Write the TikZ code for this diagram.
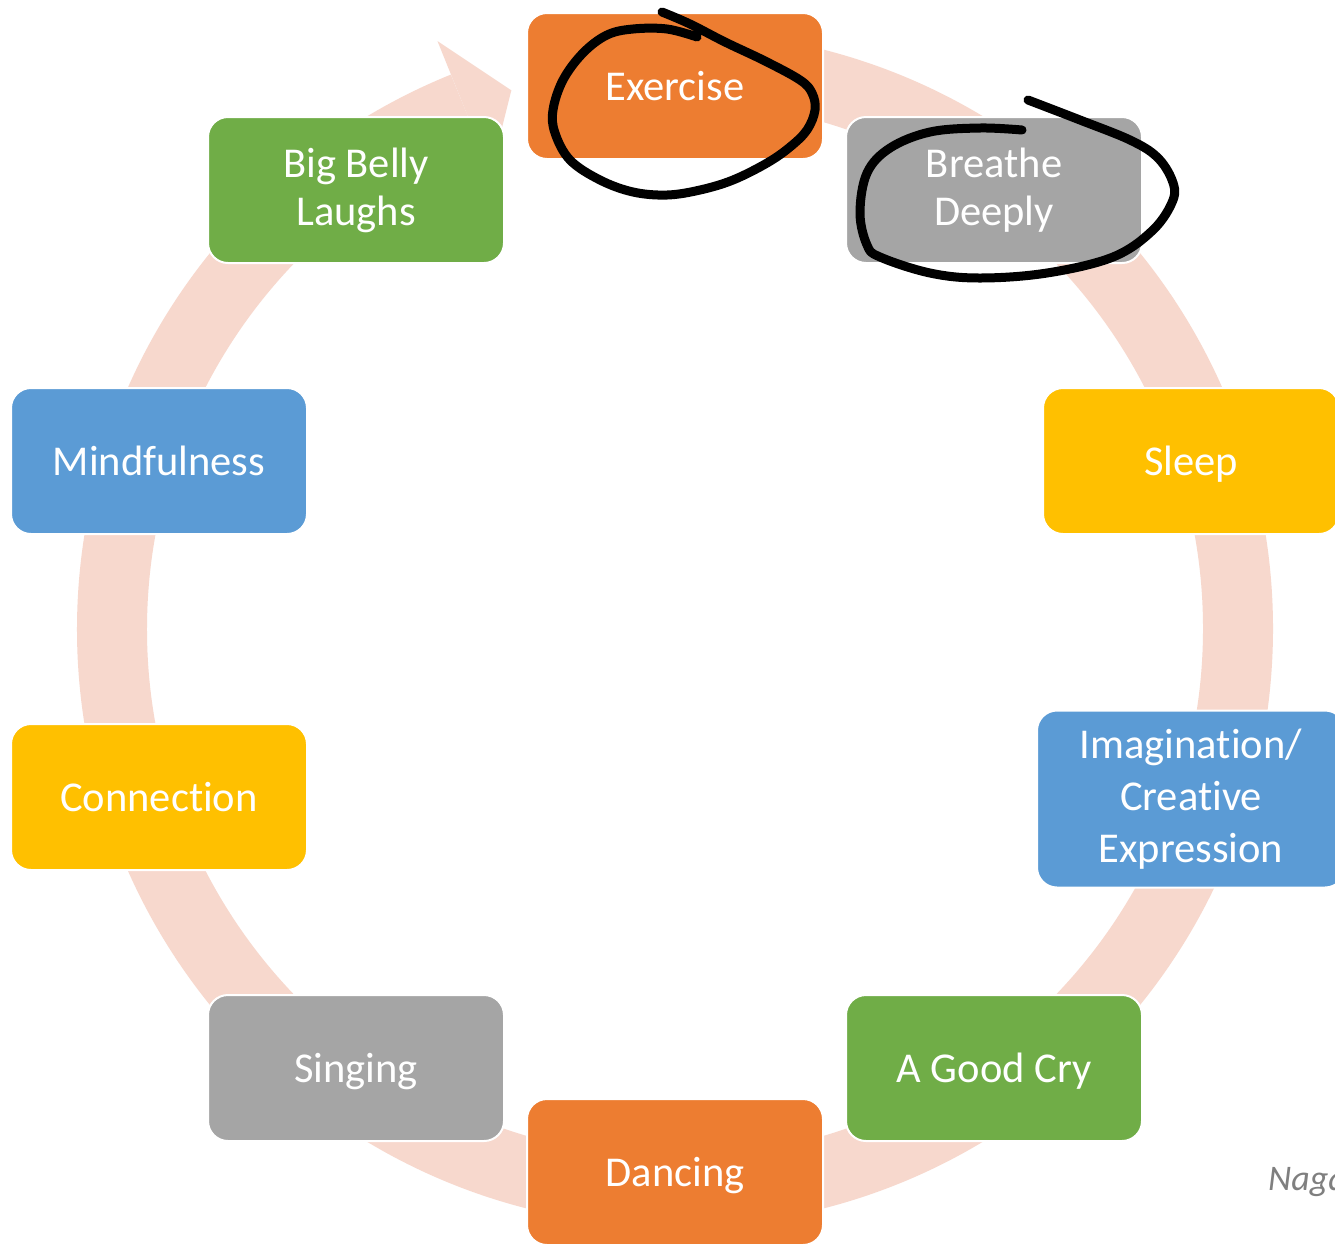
\documentclass[tikz,border=0pt]{standalone}
\usepackage{fontspec}
\usetikzlibrary{calc}
\setmainfont[Ligatures=NoCommon]{Carlito}
\definecolor{cOrange}{HTML}{ED7D31}
\definecolor{cGray}{HTML}{A5A5A5}
\definecolor{cYellow}{HTML}{FFC000}
\definecolor{cBlue}{HTML}{5B9BD5}
\definecolor{cGreen}{HTML}{70AD47}
\definecolor{cRing}{RGB}{247,216,205}
\definecolor{cNote}{HTML}{7F7F7F}
\begin{document}
\begin{tikzpicture}[x=1pt,y=1pt,
  box/.style={rectangle, rounded corners=20pt, draw=white, line width=2pt,
    minimum width=296pt, minimum height=146pt, inner sep=0pt, text=white,
    align=center, font=\fontsize{42.5}{48}\selectfont},
  oneline/.style={text height=28pt, text depth=0pt},
  scribble/.style={draw=black, line width=9pt, line cap=round, line join=round}]
\clip (0,0) rectangle (1335,-1243);
\fill[white] (0,0) rectangle (1335,-1243);
% ring arrow
\coordinate (ctr) at (675,-629);
\draw[cRing, line width=70pt] (ctr) ++(88:563) arc[start angle=88, end angle=-248, radius=563];
\fill[cRing] ($(ctr)+(112:634)$) -- ($(ctr)+(106.9:563)$) -- ($(ctr)+(112:492)$) -- cycle;
% boxes
\node[box, oneline, fill=cOrange] (exercise) at (675,-86) {Exercise};
\node[box, fill=cGray] (breathe) at (994,-190) {Breathe\\Deeply};
\node[box, oneline, fill=cYellow] (sleep) at (1191,-461) {Sleep};
\node[box, fill=cBlue, minimum width=308pt, minimum height=177pt, font=\fontsize{42.5}{52}\selectfont] (imag) at (1191,-799) {Imagination/\\Creative\\Expression};
\node[box, oneline, fill=cGreen] (cry) at (994,-1068) {A Good Cry};
\node[box, oneline, fill=cOrange] (dancing) at (675,-1172) {Dancing};
\node[box, oneline, fill=cGray] (singing) at (356,-1068) {Singing};
\node[box, oneline, fill=cYellow] (connection) at (159,-797) {Connection};
\node[box, oneline, fill=cBlue] (mindful) at (159,-461) {Mindfulness};
\node[box, fill=cGreen] (belly) at (356,-190) {Big Belly\\Laughs};
% hand-drawn circles
\draw[scribble] plot[smooth, tension=0.6] coordinates {
 (697,-37) (667,-29) (633,-29) (607,-35) (583,-53) (563,-80) (553,-110) (555,-133)
 (570,-160) (600,-180) (633,-192) (667,-195) (700,-190) (733,-180) (767,-163)
 (790,-147) (807,-130) (815,-110) (812,-93) (800,-80) (765,-61) (725,-42) (690,-24) (662,-12)};
\draw[scribble] plot[smooth, tension=0.6] coordinates {
 (1022,-130) (980,-128) (930,-132) (890,-148) (867,-173) (860,-213) (867,-245)
 (880,-257) (930,-273) (980,-278) (1047,-273) (1113,-257) (1153,-230) (1173,-200)
 (1172,-180) (1157,-157) (1130,-140) (1080,-120) (1028,-100)};
% note
\node[anchor=base west, inner sep=0pt, text=cNote, font=\fontsize{36}{40}\selectfont\itshape] (note) at (1268,-1190) {Naga};
\end{tikzpicture}
\end{document}
